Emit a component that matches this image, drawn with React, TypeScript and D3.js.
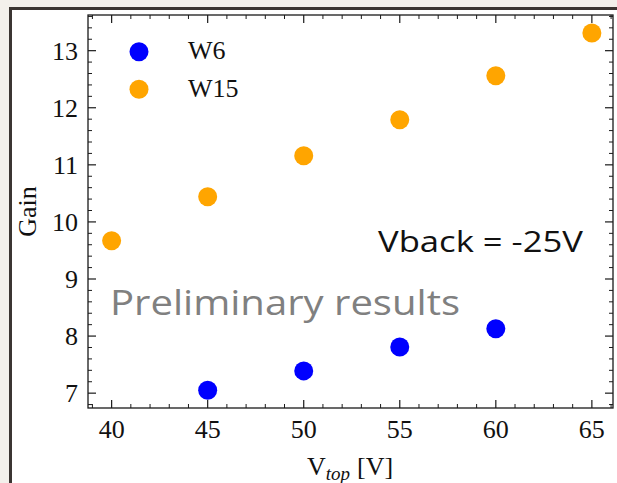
import React from "react";
import * as d3 from "d3";

const xW6 = [45, 50, 55, 60];
const yW6 = [7.05, 7.39, 7.81, 8.13];
const xW15 = [40, 45, 50, 55, 60, 65];
const yW15 = [9.67, 10.44, 11.16, 11.79, 12.56, 13.31];
const xTicks = [40, 45, 50, 55, 60, 65];
const yTicks = [7, 8, 9, 10, 11, 12, 13];
const seriesNames = ["W6", "W15"];
const seriesColors = ["#0000ff", "#ffa500"];

const W = 617, H = 483;
const L = 88, R = 613, T = 15, B = 408;
const serif = "'Liberation Serif', 'Times New Roman', serif";
const sans = "'Open Sans', 'Noto Sans', sans-serif";

export default function App() {
  const x = d3.scaleLinear().domain([38.77, 66.1]).range([L, R]);
  const y = d3.scaleLinear().domain([6.74, 13.625]).range([B, T]);
  const xMinor = d3.range(39, 67, 1).filter((v) => v % 5 !== 0);
  const yMinor = d3.range(6.8, 13.62, 0.2).filter((v) => Math.abs(v - Math.round(v)) > 0.01);
  const maj = 8, mnr = 4;
  const series = [
    { xs: xW6, ys: yW6 },
    { xs: xW15, ys: yW15 },
  ];
  return (
    <svg width={W} height={H} style={{ position: "absolute", left: 0, top: 0 }}>
      <rect x={0} y={0} width={W} height={H} fill="#f3f0eb" />
      <rect x={10.5} y={8.5} width={W + 10} height={H + 10} fill="#ffffff" stroke="#3b3532" strokeWidth={3} />
      {series.map((s, si) =>
        s.xs.map((xv, i) => (
          <circle key={`${si}-${i}`} cx={x(xv)} cy={y(s.ys[i])} r={9.5} fill={seriesColors[si]} />
        ))
      )}
      <rect x={L} y={T} width={R - L} height={B - T} fill="none" stroke="#1a1a1a" strokeWidth={1.3} />
      {xTicks.map((v) => (
        <g key={`xt${v}`}>
          <line x1={x(v)} x2={x(v)} y1={B} y2={B - maj} stroke="#1a1a1a" strokeWidth={1.2} />
          <line x1={x(v)} x2={x(v)} y1={T} y2={T + maj} stroke="#1a1a1a" strokeWidth={1.2} />
          <text x={x(v)} y={437.5} textAnchor="middle" fontFamily={serif} fontSize={26} fill="#111">{v}</text>
        </g>
      ))}
      {xMinor.map((v) => (
        <g key={`xm${v}`}>
          <line x1={x(v)} x2={x(v)} y1={B} y2={B - mnr} stroke="#1a1a1a" strokeWidth={1} />
          <line x1={x(v)} x2={x(v)} y1={T} y2={T + mnr} stroke="#1a1a1a" strokeWidth={1} />
        </g>
      ))}
      {yTicks.map((v) => (
        <g key={`yt${v}`}>
          <line x1={L} x2={L + maj} y1={y(v)} y2={y(v)} stroke="#1a1a1a" strokeWidth={1.2} />
          <line x1={R} x2={R - maj} y1={y(v)} y2={y(v)} stroke="#1a1a1a" strokeWidth={1.2} />
          <text x={78} y={y(v) + 9} textAnchor="end" fontFamily={serif} fontSize={26} fill="#111">{v}</text>
        </g>
      ))}
      {yMinor.map((v, i) => (
        <g key={`ym${i}`}>
          <line x1={L} x2={L + mnr} y1={y(v)} y2={y(v)} stroke="#1a1a1a" strokeWidth={1} />
          <line x1={R} x2={R - mnr} y1={y(v)} y2={y(v)} stroke="#1a1a1a" strokeWidth={1} />
        </g>
      ))}
      <text x={350} y={475} textAnchor="middle" fontFamily={serif} fontSize={26} fill="#111">
        V<tspan fontStyle="italic" fontSize={19} dy={5}>top</tspan>
        <tspan dy={-5} dx={7}>[V]</tspan>
      </text>
      <text transform={`translate(36,${(T + B) / 2}) rotate(-90)`} textAnchor="middle" fontFamily={serif} fontSize={26} fill="#111">Gain</text>
      {seriesNames.map((n, i) => (
        <g key={n}>
          <circle cx={139} cy={51.7 + i * 37.6} r={9.5} fill={seriesColors[i]} />
          <text x={188} y={59} fontFamily={serif} fontSize={26} fill="#111" dy={i * 37.6}>{n}</text>
        </g>
      ))}
      <text x={378} y={252} fontFamily={sans} fontSize={30} fill="#111" textLength={205} lengthAdjust="spacingAndGlyphs">Vback = -25V</text>
      <text x={110} y={315} fontFamily={sans} fontSize={35} fill="#808080" textLength={350} lengthAdjust="spacingAndGlyphs">Preliminary results</text>
    </svg>
  );
}
